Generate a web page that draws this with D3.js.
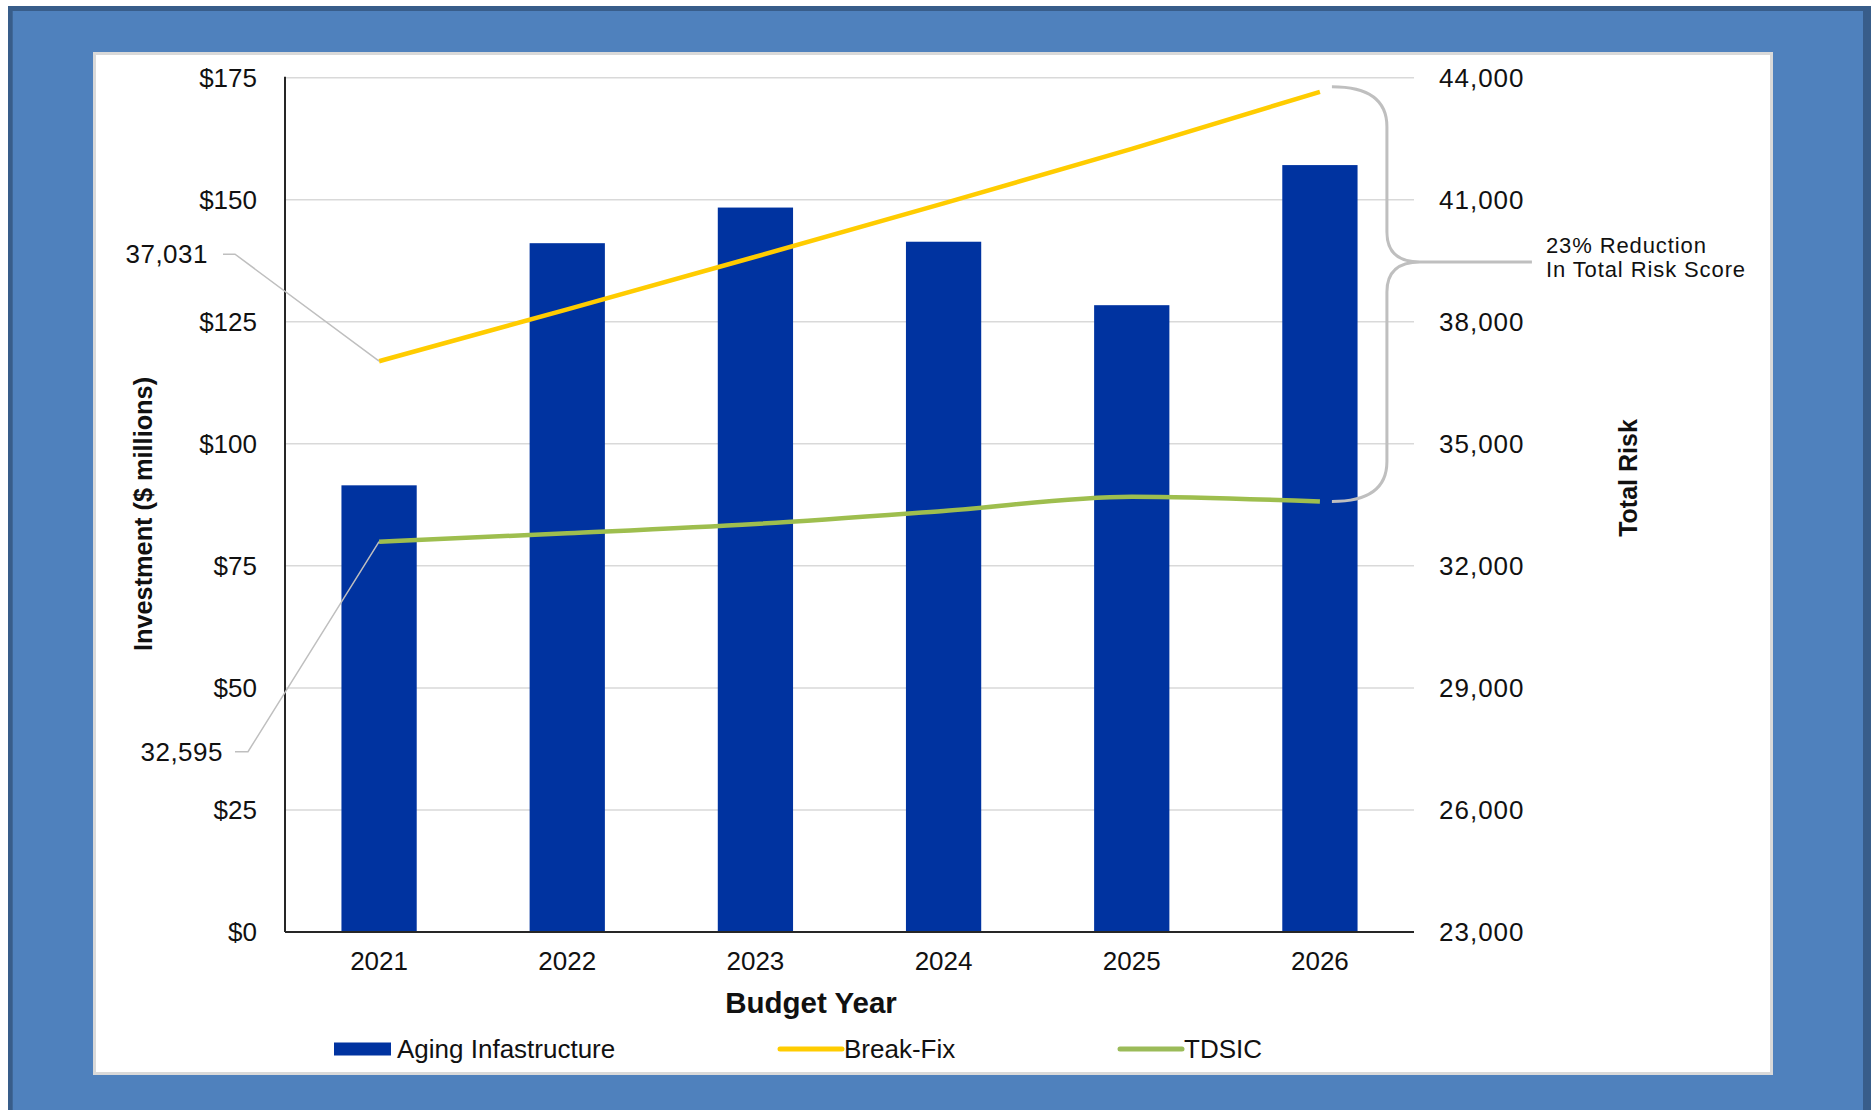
<!DOCTYPE html>
<html>
<head>
<meta charset="utf-8">
<script src="https://cdn.jsdelivr.net/npm/d3@7/dist/d3.min.js"></script>
<style>
  html, body { margin: 0; padding: 0; background: #fff; }
  svg { display: block; }
  text { font-family: "Liberation Sans", Arial, sans-serif; fill: #111; }
</style>
</head>
<body>
<script>
// ---- data ----
const years = ["2021", "2022", "2023", "2024", "2025", "2026"];
const agingInfrastructure = [91.5, 141.1, 148.4, 141.4, 128.4, 157.1];   // $ millions
const breakFix = [37031, 38305, 39598, 40910, 42252, 43653];             // total risk
const tdsic = [32595, 32800, 33030, 33350, 33700, 33580];                // total risk
const investmentTicks = [0, 25, 50, 75, 100, 125, 150, 175];
const riskTicks = [23000, 26000, 29000, 32000, 35000, 38000, 41000, 44000];
const legendItems = [
  { label: "Aging Infastructure", kind: "bar", color: "#0033A0" },
  { label: "Break-Fix", kind: "line", color: "#FFCC00" },
  { label: "TDSIC", kind: "line", color: "#9BBB59" }
];

const W = 1871, H = 1110;
const svg = d3.select("body").append("svg").attr("width", W).attr("height", H);

// ---- outer frame and white panel ----
svg.append("rect").attr("x", 0).attr("y", 0).attr("width", W).attr("height", H).attr("fill", "#fff");
svg.append("rect").attr("x", 8).attr("y", 6).attr("width", W - 8).attr("height", H).attr("fill", "#385D8A");
svg.append("rect").attr("x", 12.7).attr("y", 11).attr("width", 1863 - 12.7).attr("height", H).attr("fill", "#4F81BD");
svg.append("rect").attr("x", 94.5).attr("y", 53.5).attr("width", 1677).attr("height", 1020)
  .attr("fill", "#fff").attr("stroke", "#d9d9d9").attr("stroke-width", 3);

// ---- scales ----
const M = { left: 285, right: 1414, top: 77.7, bottom: 932 };
const x = d3.scaleBand().domain(years).range([M.left, M.right]).paddingInner(0.6).paddingOuter(0.3);
const yL = d3.scaleLinear().domain([0, 175]).range([M.bottom, M.top]);
const yR = d3.scaleLinear().domain([23000, 44000]).range([M.bottom, M.top]);
const cx = d => x(d) + x.bandwidth() / 2;
const fmt = d3.format(",");

// ---- gridlines ----
svg.append("g").selectAll("line").data(investmentTicks.filter(t => t > 0)).join("line")
  .attr("x1", M.left).attr("x2", M.right)
  .attr("y1", d => yL(d)).attr("y2", d => yL(d))
  .attr("stroke", "#d9d9d9").attr("stroke-width", 1.5);

// ---- bars ----
svg.append("g").selectAll("rect").data(agingInfrastructure).join("rect")
  .attr("x", (d, i) => x(years[i]))
  .attr("y", d => yL(d))
  .attr("width", x.bandwidth())
  .attr("height", d => yL(0) - yL(d))
  .attr("fill", "#0033A0");

// ---- axis lines ----
svg.append("line").attr("x1", M.left).attr("x2", M.left).attr("y1", M.top - 1).attr("y2", M.bottom)
  .attr("stroke", "#262626").attr("stroke-width", 2);
svg.append("line").attr("x1", M.left).attr("x2", M.right).attr("y1", M.bottom).attr("y2", M.bottom)
  .attr("stroke", "#262626").attr("stroke-width", 2);

// ---- axes (labels only) ----
const axL = svg.append("g").attr("transform", `translate(${M.left},0)`)
  .call(d3.axisLeft(yL).tickValues(investmentTicks).tickFormat(d => "$" + d).tickSize(0).tickPadding(28));
const axR = svg.append("g").attr("transform", `translate(${M.right},0)`)
  .call(d3.axisRight(yR).tickValues(riskTicks).tickFormat(fmt).tickSize(0).tickPadding(25));
const axB = svg.append("g").attr("transform", `translate(0,${M.bottom})`)
  .call(d3.axisBottom(x).tickSize(0).tickPadding(20));
[axL, axR, axB].forEach(g => {
  g.select(".domain").remove();
  g.selectAll("text").attr("font-size", 26).attr("font-family", '"Liberation Sans", Arial, sans-serif').attr("fill", "#111");
});
axR.selectAll("text").attr("letter-spacing", 1);

// ---- risk lines ----
const line = d3.line().x((d, i) => cx(years[i])).y(d => yR(d)).curve(d3.curveMonotoneX);
svg.append("path").datum(tdsic).attr("d", line).attr("fill", "none")
  .attr("stroke", "#9EBE4E").attr("stroke-width", 4.5).attr("stroke-linecap", "butt");
svg.append("path").datum(breakFix).attr("d", line).attr("fill", "none")
  .attr("stroke", "#FFCC00").attr("stroke-width", 4.5).attr("stroke-linecap", "butt");

// ---- starting-value callouts ----
const lead = "#bfbfbf";
const bx0 = cx(years[0]);
svg.append("path")
  .attr("d", `M223,${yR(breakFix[0]) - 107} L235,${yR(breakFix[0]) - 107} L${bx0},${yR(breakFix[0])}`)
  .attr("fill", "none").attr("stroke", lead).attr("stroke-width", 1.5);
svg.append("text").attr("x", 208).attr("y", yR(breakFix[0]) - 107 + 9).attr("text-anchor", "end")
  .attr("font-size", 26).attr("letter-spacing", 0.5).text(fmt(breakFix[0]));
svg.append("path")
  .attr("d", `M235,${yR(tdsic[0]) + 210} L248,${yR(tdsic[0]) + 210} L${bx0},${yR(tdsic[0])}`)
  .attr("fill", "none").attr("stroke", lead).attr("stroke-width", 1.5);
svg.append("text").attr("x", 223).attr("y", yR(tdsic[0]) + 210 + 9).attr("text-anchor", "end")
  .attr("font-size", 26).attr("letter-spacing", 0.5).text(fmt(tdsic[0]));

// ---- reduction brace ----
const last = years.length - 1;
const xe = cx(years[last]);
const yTop = yR(breakFix[last]) - 5, yBot = yR(tdsic[last]);
const yMid = 262;
const x0 = xe + 12, xv = xe + 67, xt = xe + 100;
svg.append("path")
  .attr("d", `M${x0},${yTop} Q${xv},${yTop} ${xv},${yTop + 40} L${xv},${yMid - 30} Q${xv},${yMid} ${xt},${yMid}` +
             ` Q${xv},${yMid} ${xv},${yMid + 30} L${xv},${yBot - 40} Q${xv},${yBot} ${x0},${yBot}` +
             ` M${xt},${yMid} L${xe + 212},${yMid}`)
  .attr("fill", "none").attr("stroke", "#bfbfbf").attr("stroke-width", 3);
const pct = Math.round((1 - tdsic[last] / breakFix[last]) * 100);
const note = svg.append("text").attr("font-size", 22).attr("letter-spacing", 0.9);
note.append("tspan").attr("x", xe + 226).attr("y", 253).text(`${pct}% Reduction`);
note.append("tspan").attr("x", xe + 226).attr("y", 277).text("In Total Risk Score");

// ---- axis titles ----
svg.append("text").attr("transform", "translate(152,514) rotate(-90)").attr("text-anchor", "middle")
  .attr("font-size", 25.3).attr("font-weight", "bold").text("Investment ($ millions)");
svg.append("text").attr("transform", "translate(1637,478) rotate(-90)").attr("text-anchor", "middle")
  .attr("font-size", 25).attr("font-weight", "bold").text("Total Risk");
svg.append("text").attr("x", 811).attr("y", 1013).attr("text-anchor", "middle")
  .attr("font-size", 29.5).attr("font-weight", "bold").text("Budget Year");

// ---- legend ----
const legendX = [334, 780, 1120];
const lg = svg.append("g").selectAll("g").data(legendItems).join("g")
  .attr("transform", (d, i) => `translate(${legendX[i]},1049)`);
lg.filter(d => d.kind === "bar").append("rect")
  .attr("x", 0).attr("y", -6.5).attr("width", 57).attr("height", 13).attr("fill", d => d.color);
lg.filter(d => d.kind === "line").append("line")
  .attr("x1", 0).attr("x2", 62).attr("y1", 0).attr("y2", 0)
  .attr("stroke", d => d.color).attr("stroke-width", 5).attr("stroke-linecap", "round");
lg.append("text").attr("x", d => d.kind === "bar" ? 63 : 64).attr("y", 9)
  .attr("font-size", 26).text(d => d.label);
</script>
</body>
</html>
